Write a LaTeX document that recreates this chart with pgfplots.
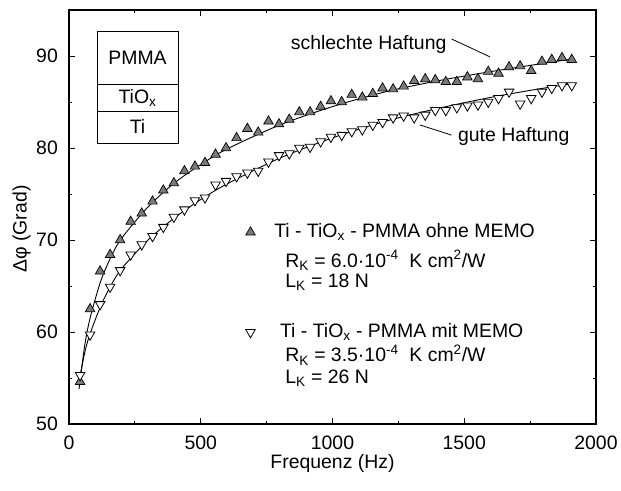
\documentclass[border=0pt]{standalone}
\usepackage{fontspec}
\setmainfont{Liberation Sans}
\usepackage{pgfplots}
\pgfplotsset{compat=1.18}
\definecolor{trifill}{HTML}{7A7A7A}
\begin{document}
\fontsize{19.5}{23}\selectfont
\begin{tikzpicture}
\path[use as bounding box] (-69bp,-67bp) rectangle (552bp,424bp);
\begin{axis}[
  scale only axis, width=527bp, height=414bp,
  xmin=0, xmax=2000, ymin=50, ymax=95,
  xtick={0,500,1000,1500,2000}, ytick={50,60,70,80,90},
  minor xtick={250,750,1250,1750}, minor ytick={55,65,75,85},
  tick align=inside, major tick length=6bp, minor tick length=3.5bp,
  axis line style={line width=1.1bp},
  every tick/.style={black, line width=0.9bp},
  /pgf/number format/assume math mode=true,
  /pgf/number format/1000 sep={},
  tick label style={font=\fontsize{19.5}{23}\selectfont},
  xticklabel style={yshift=-5bp},
  yticklabel style={xshift=-4.5bp},
  label style={font=\fontsize{19.5}{23}\selectfont},
  xlabel={Frequenz (Hz)},
  xlabel style={at={(axis description cs:0.5,-0.096)}, anchor=center},
  ylabel={Δφ (Grad)},
  ylabel style={at={(axis description cs:-0.0898,0.471)}, anchor=center, rotate=0},
  legend cell align=left,
  legend style={at={(axis cs:670,72)}, anchor=north west, draw=none, fill=none,
    inner sep=0pt, row sep=79bp, column sep=17bp, font=\fontsize{19.5}{23}\selectfont},
  clip=false,
]
% fitted curves
\addplot[forget plot, smooth, black, line width=0.9bp] coordinates {
(38,53.8) (60,58.6) (80,61.5) (120,65.5) (160,68.2) (200,70.2) (300,73.6) (400,76.2) (500,78.2)
(600,79.9) (800,82.5) (1000,84.5) (1200,86.1) (1400,87.3) (1600,88.3) (1800,89.2) (1915,89.7)};
\addplot[forget plot, smooth, black, line width=0.9bp] coordinates {
(38,54.6) (60,57.8) (80,59.8) (120,62.8) (160,65.1) (200,66.9) (300,70.0) (400,72.4) (500,74.4)
(600,76.1) (800,78.9) (1000,81.1) (1200,82.9) (1400,84.3) (1600,85.5) (1800,86.5) (1915,87.0)};
% data
\addplot[only marks, mark=triangle*, mark size=5.5bp,
  mark options={fill=trifill, draw=black, line width=0.7bp}] coordinates {
(42,54.6) (80,62.5) (118,66.6) (156,68.4) (194,70.0) (234,72.0) (276,72.9) (317,74.2)
(358,75.4) (398,76.2) (438,77.5) (478,78.0) (516,78.4) (556,79.3) (596,80.0) (636,81.1)
(677,82.1) (718,81.7) (757,82.9) (797,82.6) (836,83.1) (874,83.9) (915,83.9) (955,84.5)
(994,85.1) (1035,85.0) (1073,85.8) (1113,85.5) (1153,85.9) (1190,86.5) (1230,86.4) (1270,86.7)
(1310,87.3) (1352,87.5) (1390,87.4) (1430,87.2) (1472,87.2) (1512,87.7) (1552,87.5) (1591,88.3)
(1630,88.1) (1670,88.8) (1712,88.9) (1754,88.4) (1795,89.4) (1832,89.6) (1871,89.8) (1908,89.6)};
\addlegendentry{Ti - TiO\textsubscript{x} - PMMA ohne MEMO}
\addplot[only marks, mark=triangle*, mark size=5.5bp,
  mark options={rotate=180, fill=white, draw=black, line width=0.8bp}] coordinates {
(42,55.3) (80,59.7) (118,63.0) (156,64.9) (194,66.7) (234,68.4) (276,69.5) (317,70.4)
(358,71.4) (398,72.5) (438,73.3) (478,74.3) (516,74.6) (556,76.0) (596,76.4) (636,76.9)
(677,77.3) (718,77.5) (757,78.5) (797,79.2) (836,79.4) (874,80.0) (915,80.1) (955,80.7)
(994,81.2) (1035,81.4) (1073,81.8) (1113,82.0) (1153,82.5) (1190,82.8) (1230,83.3) (1270,83.5)
(1310,83.3) (1352,83.6) (1390,84.1) (1430,84.1) (1472,84.4) (1512,84.6) (1552,84.7) (1591,85.0)
(1630,85.4) (1670,86.1) (1712,84.8) (1754,85.4) (1795,86.1) (1832,86.5) (1871,86.8) (1908,86.8)};
\addlegendentry{\hspace{0.3em}Ti - TiO\textsubscript{x} - PMMA mit MEMO}
% legend continuation lines
\node[anchor=west, inner sep=0pt] at (axis cs:820,67.8) {R\textsubscript{K} = 6.0·10\textsuperscript{-4}\ \ K cm\textsuperscript{2}/W};
\node[anchor=west, inner sep=0pt] at (axis cs:820,65.4) {L\textsubscript{K} = 18 N};
\node[anchor=west, inner sep=0pt] at (axis cs:820,57.5) {R\textsubscript{K} = 3.5·10\textsuperscript{-4}\ \ K cm\textsuperscript{2}/W};
\node[anchor=west, inner sep=0pt] at (axis cs:820,55.0) {L\textsubscript{K} = 26 N};
% inset layer sketch
\draw[line width=0.8bp] (axis cs:106,92.72) rectangle (axis cs:414,80.54);
\draw[line width=0.8bp] (axis cs:106,86.9) -- (axis cs:414,86.9);
\draw[line width=0.8bp] (axis cs:106,84.0) -- (axis cs:414,84.0);
\node at (axis cs:260,89.8) {PMMA};
\node at (axis cs:260,85.45) {TiO\textsubscript{x}};
\node at (axis cs:260,82.3) {Ti};
% annotations
\node[anchor=east, inner sep=0pt] at (axis cs:1433,91.2) {schlechte Haftung};
\draw[line width=0.8bp] (axis cs:1452,91.85) -- (axis cs:1598,89.9);
\node[anchor=west, inner sep=0pt] at (axis cs:1476,81.2) {gute Haftung};
\draw[line width=0.8bp] (axis cs:1332,82.5) -- (axis cs:1452,81.4);
\end{axis}
\end{tikzpicture}
\end{document}
